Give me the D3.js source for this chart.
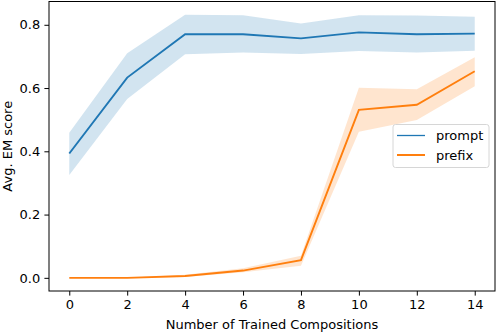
<!DOCTYPE html>
<html>
<head>
<meta charset="utf-8">
<script src="https://cdn.jsdelivr.net/npm/d3@7"></script>
<style>
  body { margin: 0; background: #fff; }
  text { font-family: "DejaVu Sans", sans-serif; }
</style>
</head>
<body>
<div class="chart"></div>
<script>
// number of trained compositions
var compositions = [0, 2, 4, 6, 8, 10, 12, 14];

var promptMean = [0.393, 0.633, 0.770, 0.770, 0.757, 0.776, 0.770, 0.772];
var promptLow  = [0.325, 0.565, 0.707, 0.712, 0.708, 0.717, 0.712, 0.718];
var promptHigh = [0.459, 0.710, 0.832, 0.830, 0.804, 0.830, 0.829, 0.825];

var prefixMean = [0.000, 0.000, 0.006, 0.023, 0.056, 0.531, 0.547, 0.653];
var prefixLow  = [0.000, 0.000, 0.003, 0.018, 0.038, 0.462, 0.499, 0.606];
var prefixHigh = [0.000, 0.000, 0.010, 0.030, 0.070, 0.601, 0.596, 0.697];

var xTicks = [0, 2, 4, 6, 8, 10, 12, 14];
var yTicks = [0.0, 0.2, 0.4, 0.6, 0.8];

var width = 496, height = 332;
var margin = {top: 1.5, right: 1, bottom: 41, left: 49};
var fontSize = "13px";

var svg = d3.select(".chart").append("svg")
    .attr("width", width)
    .attr("height", height);

var x = d3.scaleLinear()
    .domain([-0.7, 14.7])
    .range([margin.left, width - margin.right]);

var y = d3.scaleLinear()
    .domain([-0.0416, 0.8736])
    .range([height - margin.bottom, margin.top]);

var series = [
    {name: "prompt", color: "#1f77b4", mean: promptMean, low: promptLow, high: promptHigh},
    {name: "prefix", color: "#ff7f0e", mean: prefixMean, low: prefixLow, high: prefixHigh}
];

var band = d3.area()
    .x(function(d) { return x(d.x); })
    .y0(function(d) { return y(d.low); })
    .y1(function(d) { return y(d.high); });

var line = d3.line()
    .x(function(d) { return x(d.x); })
    .y(function(d) { return y(d.mean); });

series.forEach(function(s) {
    s.points = compositions.map(function(c, i) {
        return {x: c, mean: s.mean[i], low: s.low[i], high: s.high[i]};
    });
});

// bands first, then lines
svg.selectAll("path.band")
    .data(series)
    .enter().append("path")
    .attr("class", "band")
    .attr("d", function(d) { return band(d.points); })
    .attr("fill", function(d) { return d.color; })
    .attr("fill-opacity", 0.2)
    .attr("stroke", "none");

svg.selectAll("path.line")
    .data(series)
    .enter().append("path")
    .attr("class", "line")
    .attr("d", function(d) { return line(d.points); })
    .attr("fill", "none")
    .attr("stroke", function(d) { return d.color; })
    .attr("stroke-width", 1.9);

// axes
var xAxis = svg.append("g")
    .attr("transform", "translate(0," + (height - margin.bottom) + ")")
    .call(d3.axisBottom(x).tickValues(xTicks).tickSize(4.6).tickPadding(3.8)
        .tickFormat(d3.format("d")));

var yAxis = svg.append("g")
    .attr("transform", "translate(" + margin.left + ",0)")
    .call(d3.axisLeft(y).tickValues(yTicks).tickSize(4.6).tickPadding(4.2)
        .tickFormat(d3.format(".1f")));

[xAxis, yAxis].forEach(function(a) {
    a.select(".domain").remove();
    a.selectAll("line").attr("stroke", "#000").attr("stroke-width", 1);
    a.selectAll("text").attr("fill", "#000").style("font-size", fontSize);
});

// frame
svg.append("rect")
    .attr("x", margin.left)
    .attr("y", margin.top)
    .attr("width", width - margin.left - margin.right)
    .attr("height", height - margin.top - margin.bottom)
    .attr("fill", "none")
    .attr("stroke", "#000")
    .attr("stroke-width", 1);

svg.append("text")
    .attr("x", (margin.left + width - margin.right) / 2)
    .attr("y", 329)
    .attr("text-anchor", "middle")
    .style("font-size", fontSize)
    .text("Number of Trained Compositions");

svg.append("text")
    .attr("transform", "translate(11.5," + ((margin.top + height - margin.bottom) / 2) + ") rotate(-90)")
    .attr("text-anchor", "middle")
    .style("font-size", fontSize)
    .text("Avg. EM score");

// legend
var legend = svg.append("g")
    .attr("transform", "translate(393,124.5)");

legend.append("rect")
    .attr("width", 96)
    .attr("height", 43)
    .attr("rx", 2.5)
    .attr("fill", "#fff")
    .attr("fill-opacity", 0.8)
    .attr("stroke", "#d6d6d6")
    .attr("stroke-width", 1);

var items = legend.selectAll("g.item")
    .data(series)
    .enter().append("g")
    .attr("class", "item")
    .attr("transform", function(d, i) { return "translate(0," + (11 + i * 19.5) + ")"; });

items.append("line")
    .attr("x1", 4)
    .attr("x2", 32)
    .attr("stroke", function(d) { return d.color; })
    .attr("stroke-width", function(d, i) { return i == 0 ? 1.3 : 2; });

items.append("text")
    .attr("x", 43)
    .attr("dy", "0.35em")
    .style("font-size", fontSize)
    .text(function(d) { return d.name; });
</script>
</body>
</html>
